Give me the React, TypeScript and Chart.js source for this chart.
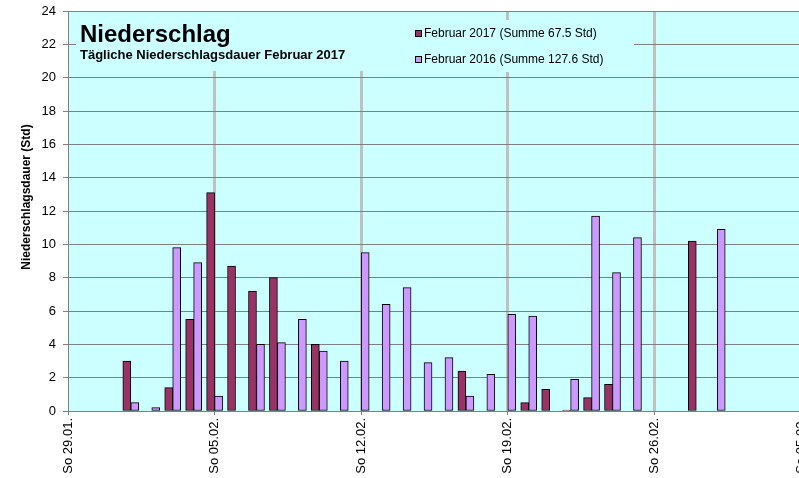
import React, { useEffect, useRef } from "react";
import { Chart, registerables } from "chart.js";

Chart.register(...registerables);

// Days from Sunday 29.01. to Sunday 05.03.
const dates = [
  "29.01.", "30.01.", "31.01.", "01.02.", "02.02.", "03.02.", "04.02.", "05.02.", "06.02.",
  "07.02.", "08.02.", "09.02.", "10.02.", "11.02.", "12.02.", "13.02.", "14.02.", "15.02.",
  "16.02.", "17.02.", "18.02.", "19.02.", "20.02.", "21.02.", "22.02.", "23.02.", "24.02.",
  "25.02.", "26.02.", "27.02.", "28.02.", "01.03.", "02.03.", "03.03.", "04.03.", "05.03.",
];
const weekTickLabels = ["So 29.01.", "So 05.02.", "So 12.02.", "So 19.02.", "So 26.02.", "So 05.03."];
const yTicks = [0, 2, 4, 6, 8, 10, 12, 14, 16, 18, 20, 22, 24];

const feb2017: (number | null)[] = [
  null, null, null, 3.0, null, 1.4, 5.5, 13.1, 8.7, 7.2, 8.0, null, 4.0, null, null, null, null, null,
  null, 2.4, null, null, 0.5, 1.3, 0.05, 0.8, 1.6, null, null, null, 10.2, null, null, null, null, null,
];
const feb2016: (number | null)[] = [
  null, null, null, 0.5, 0.2, 9.8, 8.9, 0.9, null, 4.0, 4.1, 5.5, 3.6, 3.0, 9.5, 6.4, 7.4, 2.9,
  3.2, 0.9, 2.2, 5.8, 5.7, null, 1.9, 11.7, 8.3, 10.4, null, null, null, 10.9, null, null, null, null,
];

const series2017Label = "Februar 2017 (Summe 67.5 Std)";
const series2016Label = "Februar 2016 (Summe 127.6 Std)";
const titleText = "Niederschlag";
const subtitleText = "Tägliche Niederschlagsdauer Februar 2017";
const yTitleText = "Niederschlagsdauer (Std)";

const COLOR_2017 = "#993366";
const COLOR_2016 = "#CC99FF";
const PLOT_BG = "#CCFFFF";
const FONT = "Arial, 'Liberation Sans', sans-serif";

// desired plot area on the page
const TARGET = { left: 68, top: 11, right: 800.5, bottom: 411 };

const decoPlugin = {
  id: "deco",
  beforeDraw(chart: any) {
    const { ctx, chartArea: a } = chart;
    ctx.save();
    ctx.fillStyle = PLOT_BG;
    ctx.fillRect(a.left, a.top, a.right - a.left, a.bottom - a.top);
    ctx.restore();
  },
  beforeDatasetsDraw(chart: any) {
    const { ctx, chartArea: a } = chart;
    ctx.save();
    ctx.fillStyle = PLOT_BG;
    // title box
    ctx.fillRect(a.left + 8, a.top + 1, 340, 59);
    // legend box
    ctx.fillRect(a.left + 337, a.top + 9, 229, 52);
    ctx.restore();
  },
  afterDraw(chart: any) {
    const { ctx, chartArea: a } = chart;
    ctx.save();
    ctx.fillStyle = "#000";
    ctx.textAlign = "left";
    ctx.textBaseline = "alphabetic";
    ctx.font = `bold 24px ${FONT}`;
    ctx.fillText(titleText, a.left + 12, a.top + 31);
    ctx.font = `bold 13px ${FONT}`;
    ctx.fillText(subtitleText, a.left + 12, a.top + 48);

    // legend
    const items = [
      { label: series2017Label, color: COLOR_2017, y: a.top + 22.5 },
      { label: series2016Label, color: COLOR_2016, y: a.top + 48.5 },
    ];
    ctx.font = `12px ${FONT}`;
    ctx.textBaseline = "middle";
    for (const it of items) {
      ctx.fillStyle = it.color;
      ctx.fillRect(a.left + 347.5, it.y - 3, 6, 6);
      ctx.strokeStyle = "#000";
      ctx.lineWidth = 1;
      ctx.strokeRect(a.left + 347.5, it.y - 3, 6, 6);
      ctx.fillStyle = "#000";
      ctx.fillText(it.label, a.left + 356, it.y + 0.5);
    }

    // y axis title
    ctx.translate(a.left - 41, a.top + 186);
    ctx.rotate(-Math.PI / 2);
    ctx.textAlign = "center";
    ctx.textBaseline = "middle";
    ctx.font = `bold 12px ${FONT}`;
    ctx.fillText(yTitleText, 0, 0);
    ctx.restore();
  },
};

function makeConfig(): any {
  return {
    type: "bar",
    data: {
      labels: dates,
      datasets: [
        {
          label: series2017Label,
          data: feb2017,
          backgroundColor: COLOR_2017,
          borderColor: "#000",
          borderWidth: 1,
          borderSkipped: false,
          barThickness: 8,
        },
        {
          label: series2016Label,
          data: feb2016,
          backgroundColor: COLOR_2016,
          borderColor: "#000",
          borderWidth: 1,
          borderSkipped: false,
          barThickness: 8,
        },
      ],
    },
    options: {
      responsive: false,
      animation: false,
      devicePixelRatio: 1,
      layout: { padding: { top: 20, left: 0, right: 20, bottom: 0 } },
      plugins: {
        legend: { display: false },
        tooltip: { enabled: false },
        title: { display: false },
      },
      scales: {
        x: {
          type: "category",
          offset: false,
          afterFit: (scale: any) => {
            scale.height = 67;
          },
          grid: {
            offset: false,
            drawOnChartArea: true,
            color: (c: any) => {
              const i = c.index;
              if (i === 0 || i === dates.length - 1) return "rgba(0,0,0,0)";
              return i % 7 === 0 ? "#C0C0C0" : "rgba(0,0,0,0)";
            },
            lineWidth: 3,
            tickColor: (c: any) => (c.index % 7 === 0 ? "#808080" : "rgba(0,0,0,0)"),
            tickWidth: 1,
            tickLength: 4,
          },
          border: { display: true, color: "#808080", width: 1 },
          ticks: {
            autoSkip: false,
            minRotation: 90,
            maxRotation: 90,
            padding: 3,
            color: "#000",
            font: { family: FONT, size: 13 },
            callback: (_v: any, i: number) => (i % 7 === 0 ? weekTickLabels[i / 7] : ""),
          },
        },
        y: {
          min: yTicks[0],
          max: yTicks[yTicks.length - 1],
          afterFit: (scale: any) => {
            scale.width = 68;
          },
          afterBuildTicks: (scale: any) => {
            scale.ticks = yTicks.map((v) => ({ value: v }));
          },
          grid: {
            color: "#808080",
            lineWidth: 1,
            tickLength: 5,
            tickColor: "#808080",
          },
          border: { display: true, color: "#808080", width: 1 },
          ticks: {
            padding: 7,
            color: "#000",
            font: { family: FONT, size: 13 },
          },
        },
      },
    },
    plugins: [decoPlugin],
  };
}

export default function App() {
  const canvasRef = useRef<HTMLCanvasElement | null>(null);

  useEffect(() => {
    const canvas = canvasRef.current;
    if (!canvas) return;
    // first pass: measure where the library puts the plot area
    canvas.width = 860;
    canvas.height = 520;
    let chart = new Chart(canvas, makeConfig());
    const a = chart.chartArea;
    const offX = TARGET.left - a.left;
    const offY = TARGET.top - a.top;
    const newW = Math.round(860 + (TARGET.right - offX - a.right));
    const newH = Math.round(520 + (TARGET.bottom - offY - a.bottom));
    chart.destroy();
    canvas.width = newW;
    canvas.height = newH;
    canvas.style.width = newW + "px";
    canvas.style.height = newH + "px";
    canvas.style.left = offX + "px";
    canvas.style.top = offY + "px";
    chart = new Chart(canvas, makeConfig());
    return () => chart.destroy();
  }, []);

  return (
    <div
      style={{
        position: "absolute",
        left: 0,
        top: 0,
        width: 799,
        height: 478,
        overflow: "hidden",
        background: "#fff",
      }}
    >
      <canvas ref={canvasRef} style={{ display: "block", position: "absolute" }} />
    </div>
  );
}
